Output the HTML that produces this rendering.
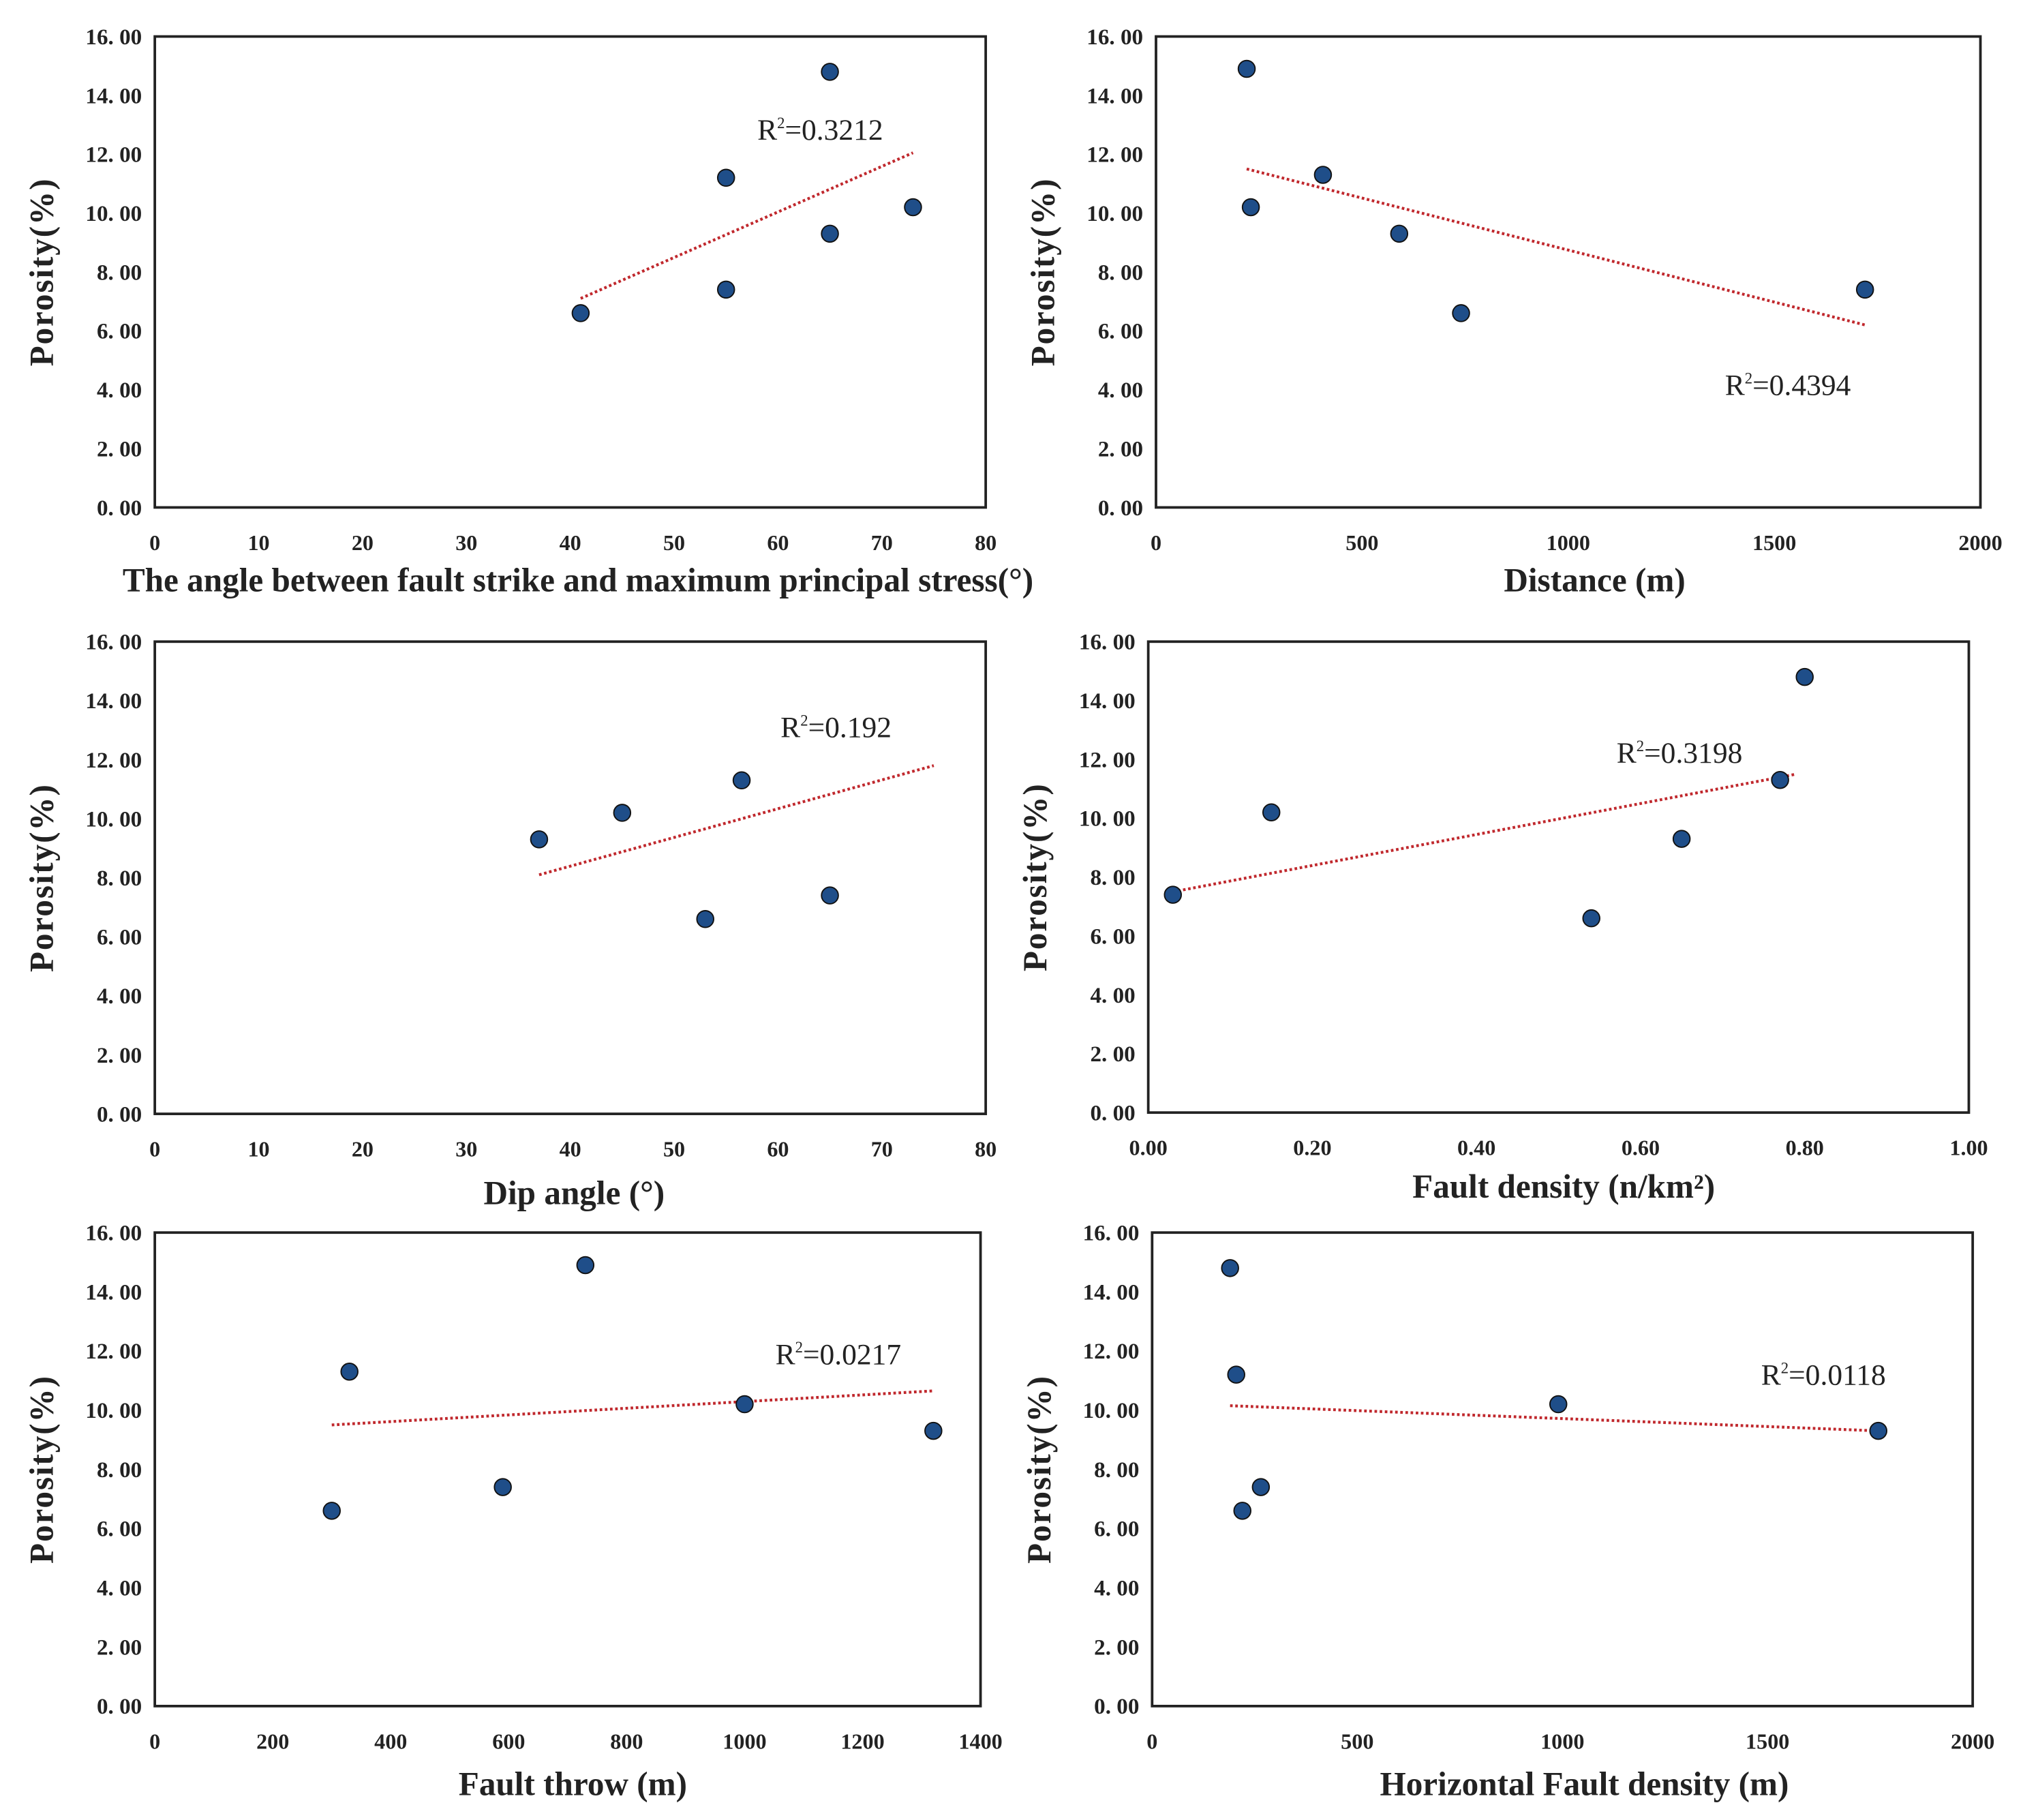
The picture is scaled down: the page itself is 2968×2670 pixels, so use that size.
<!DOCTYPE html>
<html><head><meta charset="utf-8"><style>
html,body{margin:0;padding:0;background:#fff}
svg{display:block}
text{font-family:"Liberation Serif",serif;fill:#222}
</style></head><body>
<svg id="fig" width="2968" height="2670" viewBox="0 0 1568 1410" xmlns="http://www.w3.org/2000/svg"></svg>
<script>
const yTicks=[0,2,4,6,8,10,12,14,16];
const yTickLabels=["0. 00","2. 00","4. 00","6. 00","8. 00","10. 00","12. 00","14. 00","16. 00"];
const p1X=[41,55,55,65,65,73];const p1Y=[6.6,7.4,11.2,9.3,14.8,10.2];const p1Trend=[[41,7.1],[73,12.05]];
const p2X=[220,230,405,590,740,1720];const p2Y=[14.9,10.2,11.3,9.3,6.6,7.4];const p2Trend=[[220,11.5],[1720,6.2]];
const p3X=[37,45,53,56.5,65];const p3Y=[9.3,10.2,6.6,11.3,7.4];const p3Trend=[[37,8.1],[75,11.8]];
const p4X=[0.03,0.15,0.54,0.65,0.77,0.8];const p4Y=[7.4,10.2,6.6,9.3,11.3,14.8];const p4Trend=[[0.03,7.5],[0.79,11.5]];
const p5X=[300,330,590,730,1000,1320];const p5Y=[6.6,11.3,7.4,14.9,10.2,9.3];const p5Trend=[[300,9.5],[1320,10.65]];
const p6X=[190,205,220,265,990,1770];const p6Y=[14.8,11.2,6.6,7.4,10.2,9.3];const p6Trend=[[190,10.15],[1770,9.3]];
const xt1=[0,10,20,30,40,50,60,70,80];
const xt2=[0,500,1000,1500,2000];
const xt4=[0,0.2,0.4,0.6,0.8,1.0];const xt4L=["0.00","0.20","0.40","0.60","0.80","1.00"];
const xt5=[0,200,400,600,800,1000,1200,1400];

const panels=[
 {n:"angle",L:120,R:764,T:28,B:393,xmax:80,xs:xt1,xl:xt1,X:p1X,Y:p1Y,tr:p1Trend,r2:"0.3212",rx:587,ry:108,title:"The angle between fault strike and maximum principal stress(°)",tx:448,ty:458},
 {n:"distance",L:896,R:1535,T:28,B:393,xmax:2000,xs:xt2,xl:xt2,X:p2X,Y:p2Y,tr:p2Trend,r2:"0.4394",rx:1337,ry:306,title:"Distance (m)",tx:1236,ty:458},
 {n:"dip",L:120,R:764,T:497,B:863,xmax:80,xs:xt1,xl:xt1,X:p3X,Y:p3Y,tr:p3Trend,r2:"0.192",rx:605,ry:571,title:"Dip angle (°)",tx:445,ty:933},
 {n:"fault-density",L:890,R:1526,T:497,B:862,xmax:1,xs:xt4,xl:xt4L,X:p4X,Y:p4Y,tr:p4Trend,r2:"0.3198",rx:1253,ry:591,title:"Fault density (n/km²)",tx:1212,ty:928},
 {n:"fault-throw",L:120,R:760,T:955,B:1322,xmax:1400,xs:xt5,xl:xt5,X:p5X,Y:p5Y,tr:p5Trend,r2:"0.0217",rx:601,ry:1057,title:"Fault throw (m)",tx:444,ty:1391},
 {n:"horizontal-fault-density",L:893,R:1529,T:955,B:1322,xmax:2000,xs:xt2,xl:xt2,X:p6X,Y:p6Y,tr:p6Trend,r2:"0.0118",rx:1365,ry:1073,title:"Horizontal Fault density (m)",tx:1228,ty:1391}
];
const svg=document.getElementById('fig');
const NS="http://www.w3.org/2000/svg";
function mk(tag,attrs,parent,txt){const e=document.createElementNS(NS,tag);for(const k in attrs)e.setAttribute(k,attrs[k]);if(txt!==undefined)e.textContent=txt;parent.appendChild(e);return e;}
panels.forEach(p=>{
 const g=mk('g',{},svg);
 
 
 const sx=v=>p.L+(v/p.xmax)*(p.R-p.L);
 const sy=v=>p.B-(v/16)*(p.B-p.T);
 const fr=mk('rect',{x:p.L,y:p.T,width:p.R-p.L,height:p.B-p.T,fill:'none',stroke:'#222','stroke-width':2},g);
 
 
 yTicks.forEach((v,i)=>{
  const t=mk('text',{x:p.L-10,y:sy(v)+6,'text-anchor':'end','font-size':17.5,'font-weight':'bold'},g,yTickLabels[i]);
  
  
 });
 p.xs.forEach((v,i)=>{
  const t=mk('text',{x:sx(v),y:p.B+33,'text-anchor':'middle','font-size':17,'font-weight':'bold'},g,String(p.xl[i]));
  
  
 });
 const yt=mk('text',{x:0,y:0,transform:`translate(${p.L-79},${(p.T+p.B)/2}) rotate(-90)`,'text-anchor':'middle','font-size':26,'font-weight':'bold','letter-spacing':1},g,'Porosity(%)');
 
 
 const xt=mk('text',{x:p.tx,y:p.ty,'text-anchor':'middle','font-size':26,'font-weight':'bold'},g,p.title);
 
 
 const ln=mk('line',{x1:sx(p.tr[0][0]),y1:sy(p.tr[0][1]),x2:sx(p.tr[1][0]),y2:sy(p.tr[1][1]),stroke:'#c0282d','stroke-width':2.2,'stroke-dasharray':'2 2'},g);
 
 
 p.X.forEach((x,i)=>{
  const c=mk('circle',{cx:sx(x),cy:sy(p.Y[i]),r:6.5,fill:'#1f4e89',stroke:'#111','stroke-width':1},g);
  
  
 });
 const r=mk('text',{x:p.rx,y:p.ry,'font-size':23},g);
 
 
 mk('tspan',{},r,'R');
 mk('tspan',{dy:-9,'font-size':12},r,'2');
 mk('tspan',{dy:9},r,'='+p.r2);
});
</script>
</body></html>
